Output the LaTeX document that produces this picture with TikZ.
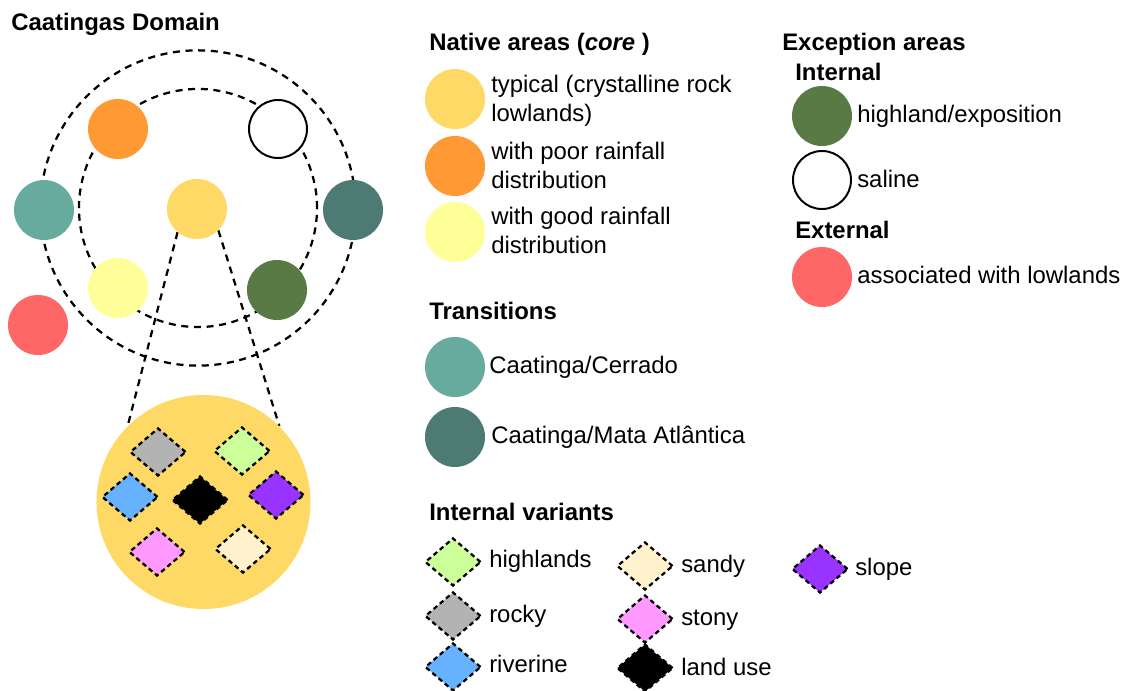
\documentclass[tikz,border=0pt]{standalone}
\usepackage{fontspec}
\setmainfont{Liberation Sans}
\usetikzlibrary{shapes.geometric,backgrounds}

\definecolor{coreyellow}{HTML}{FFD966}
\definecolor{poororange}{HTML}{FF9933}
\definecolor{goodyellow}{HTML}{FFFF99}
\definecolor{hlgreen}{HTML}{5A7A45}
\definecolor{cerradoteal}{HTML}{67AB9F}
\definecolor{mataTeal}{HTML}{4D7A72}
\definecolor{lowred}{HTML}{FF6666}
\definecolor{hllight}{HTML}{CCFF99}
\definecolor{rockgray}{HTML}{B3B3B3}
\definecolor{riverblue}{HTML}{66B2FF}
\definecolor{sandcream}{HTML}{FFF2CC}
\definecolor{stonypink}{HTML}{FF99FF}
\definecolor{slopepurple}{HTML}{9933FF}

\newcommand{\legfont}{\fontsize{17}{20.6}\selectfont}

\tikzset{
  areadot/.style={circle, minimum size=1.5cm, inner sep=0pt, draw=none},
  salinedot/.style={circle, minimum size=1.45cm, inner sep=0pt, draw=black, line width=1.4pt, fill=white},
  variant/.style={diamond, minimum width=1.4cm, minimum height=1.2cm, inner sep=0pt,
    draw=black, line width=1.6pt, dash pattern=on 3.3pt off 2.5pt},
  ring/.style={draw=black, line width=1.6pt, dash pattern=on 5pt off 4pt},
  legtxt/.style={anchor=base west, inner sep=0pt, align=left, font=\legfont},
  headtxt/.style={anchor=base west, inner sep=0pt, font=\legfont\bfseries},
}

\begin{document}
\begin{tikzpicture}[x=0.025cm, y=-0.025cm]
  \useasboundingbox (0,0) rectangle (1126,691);

  %% ---- Caatingas domain (left panel) ----
  \node[headtxt] (title) at (11,30) {Caatingas Domain};

  \node[ring, circle, minimum size=7.88cm, inner sep=0pt] (outer) at (198,208) {};
  \node[ring, circle, minimum size=5.95cm, inner sep=0pt] (inner) at (198,208) {};

  \node[areadot, fill=poororange]  (poor)  at (118,129) {};
  \node[salinedot]                 (sal)   at (278,129) {};
  \node[areadot, fill=coreyellow]  (core)  at (197,209) {};
  \node[areadot, fill=goodyellow]  (good)  at (118,288) {};
  \node[areadot, fill=hlgreen]     (hl)    at (277,290) {};
  \node[areadot, fill=cerradoteal] (cer)   at (44,210)  {};
  \node[areadot, fill=mataTeal]    (mata)  at (353,210) {};
  \node[areadot, fill=lowred]      (low)   at (38,325)  {};

  %% zoom on the core area
  \node[circle, fill=coreyellow, minimum size=5.35cm, inner sep=0pt] (zoom) at (203.5,502) {};
  \begin{scope}[on background layer]
    \draw[ring] (core.230) -- (zoom.135);
    \draw[ring] (core.315) -- (zoom.45);
  \end{scope}

  \node[variant, fill=rockgray]    (zrock)  at (158,452) {};
  \node[variant, fill=hllight]     (zhigh)  at (242,451) {};
  \node[variant, fill=riverblue]   (zriver) at (130,497) {};
  \node[variant, fill=black]       (zuse)   at (200,500) {};
  \node[variant, fill=slopepurple] (zslope) at (276,495) {};
  \node[variant, fill=stonypink]   (zstony) at (157,552) {};
  \node[variant, fill=sandcream]   (zsandy) at (243,549) {};

  %% ---- Native areas ----
  \node[headtxt] (hnative) at (429,50) {Native areas (\textit{core} )};
  \node[areadot, fill=coreyellow] (lcore) at (455,99)  {};
  \node[areadot, fill=poororange] (lpoor) at (455,166) {};
  \node[areadot, fill=goodyellow] (lgood) at (455,232) {};
  %% base anchor sits on the last line
  \node[legtxt] (tcore) at (491,121) {typical (crystalline rock\\lowlands)};
  \node[legtxt] (tpoor) at (491,188) {with poor rainfall\\distribution};
  \node[legtxt] (tgood) at (491,253) {with good rainfall\\distribution};

  %% ---- Exception areas ----
  \node[headtxt] (hexc) at (782,50)  {Exception areas};
  \node[headtxt] (hint) at (795,80)  {Internal};
  \node[areadot, fill=hlgreen] (lhl)  at (822,116) {};
  \node[salinedot]             (lsal) at (822,180) {};
  \node[legtxt] (thl)  at (857,122) {highland/exposition};
  \node[legtxt] (tsal) at (857,187) {saline};
  \node[headtxt] (hext) at (795,238) {External};
  \node[areadot, fill=lowred]  (llow) at (822,277) {};
  \node[legtxt] (tlow) at (857,283) {associated with lowlands};

  %% ---- Transitions ----
  \node[headtxt] (htrans) at (429,319) {Transitions};
  \node[areadot, fill=cerradoteal] (lcer)  at (455,367) {};
  \node[areadot, fill=mataTeal]    (lmata) at (455,437) {};
  \node[legtxt] (tcer)  at (489,373) {Caatinga/Cerrado};
  \node[legtxt] (tmata) at (491,443) {Caatinga/Mata Atlântica};

  %% ---- Internal variants ----
  \node[headtxt] (hvar) at (429,520) {Internal variants};
  \node[variant, fill=hllight]     (vhigh)  at (453,562) {};
  \node[variant, fill=rockgray]    (vrock)  at (453,616) {};
  \node[variant, fill=riverblue]   (vriver) at (453,667) {};
  \node[variant, fill=sandcream]   (vsandy) at (645,566) {};
  \node[variant, fill=stonypink]   (vstony) at (645,619) {};
  \node[variant, fill=black]       (vuse)   at (645,668) {};
  \node[variant, fill=slopepurple] (vslope) at (820,569) {};
  \node[legtxt] (thigh)  at (489,567) {highlands};
  \node[legtxt] (trock)  at (489,622) {rocky};
  \node[legtxt] (triver) at (489,672) {riverine};
  \node[legtxt] (tsandy) at (681,572) {sandy};
  \node[legtxt] (tstony) at (681,625) {stony};
  \node[legtxt] (tuse)   at (681,675) {land use};
  \node[legtxt] (tslope) at (855,575) {slope};

\end{tikzpicture}
\end{document}
